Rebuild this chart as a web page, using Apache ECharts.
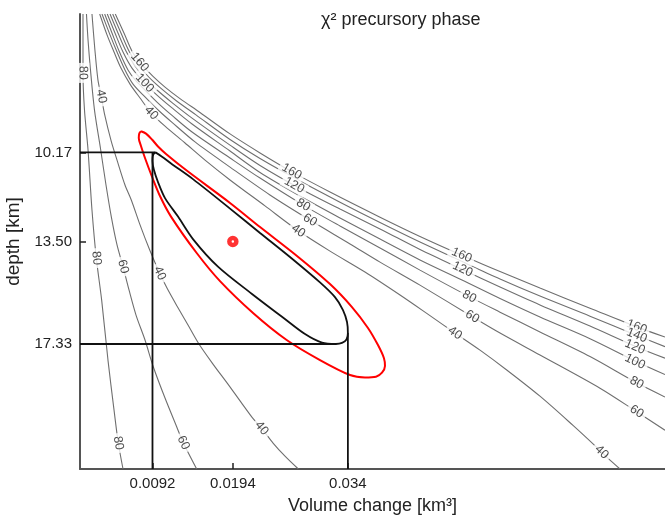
<!DOCTYPE html>
<html><head><meta charset="utf-8">
<script src="https://cdn.jsdelivr.net/npm/echarts@6/dist/echarts.min.js"></script>
<style>html,body{margin:0;padding:0;background:#fff}#c{width:665px;height:519px}</style>
</head><body><div id="c"></div>
<script>
// ---------------- data (volume change km^3, depth km) ----------------
const xTicks = [0.0092, 0.0194, 0.034];
const yTicks = [10.17, 13.50, 17.33];
const xRange = [0, 0.07425];
const yRange = [5, 22];
const bestFit = [[0.0194, 13.50]];
const boundsV = [0.0092, 0.034];
const boundsD = [10.17, 17.33];

// left family of chi^2 contours (small volume side)
const L80 = [[0.00038,5.00],[0.00038,5.97],[0.00038,7.20],[0.00057,8.59],[0.00102,10.08],[0.00152,12.32],[0.00207,14.12],[0.00275,15.69],[0.00355,17.93],[0.00432,19.80],[0.00486,21.03],[0.00546,22.00]];
const L60 = [[0.00082,5.00],[0.00102,5.97],[0.00133,7.09],[0.00184,8.59],[0.00263,10.08],[0.00330,11.39],[0.00397,12.57],[0.00470,13.63],[0.00546,14.44],[0.00622,15.31],[0.00711,16.25],[0.00825,17.18],[0.00930,18.18],[0.01079,19.35],[0.01227,20.42],[0.01311,21.02],[0.01481,22.00]];
const L40 = [[0.00152,5.00],[0.00187,6.27],[0.00228,7.47],[0.00270,8.08],[0.00313,8.76],[0.00397,9.76],[0.00470,10.46],[0.00571,11.39],[0.00651,11.95],[0.00762,12.88],[0.00885,13.82],[0.01012,14.69],[0.01104,15.24],[0.01231,15.91],[0.01371,16.62],[0.01510,17.33],[0.01688,18.08],[0.01878,18.83],[0.02043,19.50],[0.02200,20.13],[0.02306,20.48],[0.02453,21.04],[0.02602,21.52],[0.02771,22.00]];

// upper-right family of chi^2 contours
const U160 = [[0.00448,5.00],[0.00558,5.71],[0.00673,6.46],[0.00800,6.94],[0.00927,7.33],[0.01079,7.73],[0.01269,8.16],[0.01523,8.68],[0.01904,9.48],[0.02285,10.19],[0.02687,10.89],[0.03173,11.65],[0.03808,12.59],[0.04315,13.31],[0.04845,14.01],[0.05331,14.62],[0.05838,15.24],[0.06473,15.99],[0.07066,16.69],[0.07425,17.07]];
const U140 = [[0.00415,5.00],[0.00520,5.71],[0.00628,6.42],[0.00749,6.94],[0.00876,7.37],[0.01028,7.78],[0.01218,8.23],[0.01472,8.77],[0.01904,9.69],[0.02285,10.40],[0.02792,11.24],[0.03300,12.03],[0.03808,12.79],[0.04315,13.52],[0.04848,14.25],[0.05331,14.90],[0.05838,15.54],[0.06473,16.29],[0.07066,17.01],[0.07425,17.43]];
const U120 = [[0.00381,5.00],[0.00482,5.71],[0.00590,6.42],[0.00698,6.94],[0.00825,7.41],[0.00977,7.84],[0.01168,8.31],[0.01422,8.89],[0.01904,9.90],[0.02285,10.66],[0.02792,11.52],[0.03300,12.29],[0.03808,13.03],[0.04315,13.80],[0.04848,14.54],[0.05331,15.20],[0.05838,15.87],[0.06473,16.66],[0.07066,17.44],[0.07425,17.86]];
const U100 = [[0.00346,5.00],[0.00444,5.71],[0.00546,6.42],[0.00660,7.02],[0.00821,7.58],[0.00977,8.03],[0.01168,8.51],[0.01422,9.11],[0.01904,10.12],[0.02285,10.92],[0.02792,11.80],[0.03300,12.62],[0.03808,13.41],[0.04315,14.19],[0.04848,14.94],[0.05331,15.63],[0.05838,16.32],[0.06473,17.13],[0.07066,17.99],[0.07425,18.47]];
const U80 = [[0.00313,5.00],[0.00406,5.71],[0.00501,6.42],[0.00609,7.09],[0.00711,7.50],[0.00825,7.84],[0.00977,8.29],[0.01168,8.79],[0.01422,9.41],[0.01904,10.38],[0.02285,11.13],[0.02834,12.14],[0.03300,12.92],[0.03808,13.74],[0.04315,14.57],[0.04941,15.56],[0.05331,16.14],[0.05838,16.88],[0.06473,17.80],[0.07066,18.78],[0.07425,19.31]];
const U60 = [[0.00279,5.00],[0.00381,5.78],[0.00470,6.42],[0.00571,7.09],[0.00673,7.62],[0.00825,8.10],[0.00977,8.55],[0.01168,9.05],[0.01460,9.78],[0.01904,10.72],[0.02411,11.76],[0.02919,12.70],[0.03427,13.59],[0.03808,14.27],[0.04315,15.13],[0.04979,16.31],[0.05331,16.92],[0.05838,17.74],[0.06600,18.98],[0.07066,19.86],[0.07425,20.55]];
const U40 = [[0.00250,5.00],[0.00343,5.78],[0.00432,6.42],[0.00520,7.02],[0.00635,7.62],[0.00762,8.14],[0.00905,8.70],[0.01079,9.19],[0.01333,9.82],[0.01587,10.46],[0.01904,11.20],[0.02348,12.17],[0.02771,13.10],[0.03173,13.86],[0.03617,14.64],[0.04062,15.50],[0.04442,16.27],[0.04760,16.92],[0.05077,17.56],[0.05416,18.30],[0.05838,19.28],[0.06261,20.38],[0.06515,21.07],[0.06621,21.37],[0.06727,21.67],[0.06854,22.00]];

// confidence contours
const blackContour = [[0.00958,10.17],[0.01041,10.33],[0.01168,10.61],[0.01434,11.17],[0.01904,12.27],[0.02285,13.18],[0.02665,14.08],[0.03046,15.03],[0.03236,15.58],[0.03338,16.06],[0.03389,16.51],[0.03400,16.92],[0.03382,17.16],[0.03325,17.29],[0.03249,17.33],[0.03071,17.28],[0.02856,16.96],[0.02576,16.34],[0.02183,15.46],[0.01751,14.44],[0.01434,13.41],[0.01244,12.57],[0.01079,11.88],[0.00990,11.28],[0.00939,10.83],[0.00920,10.49],[0.00924,10.31],[0.00939,10.21],[0.00958,10.17]];
const redContour = [[0.00774,9.38],[0.00838,9.47],[0.00914,9.69],[0.00990,9.95],[0.01092,10.23],[0.01354,10.85],[0.01904,12.06],[0.02285,12.96],[0.02754,14.04],[0.03173,15.09],[0.03452,15.95],[0.03655,16.73],[0.03782,17.37],[0.03858,17.86],[0.03871,18.15],[0.03833,18.40],[0.03757,18.55],[0.03617,18.58],[0.03427,18.49],[0.03046,17.93],[0.02623,17.18],[0.02200,16.18],[0.01777,14.98],[0.01481,13.93],[0.01155,12.57],[0.01015,11.80],[0.00914,11.08],[0.00825,10.38],[0.00774,9.93],[0.00746,9.63],[0.00753,9.46],[0.00774,9.38]];

// contour labels: volume, depth, text, contour
const contourLabels = [
  [0.00038,7.20,'80','L80'],[0.00270,8.08,'40','L40'],
  [0.00207,14.12,'80','L80'],[0.00546,14.44,'60','L60'],[0.01012,14.69,'40','L40'],
  [0.00486,21.03,'80','L80'],[0.01311,21.02,'60','L60'],[0.02306,20.48,'40','L40'],
  [0.00758,6.80,'160','U160'],[0.00821,7.58,'100','U100'],[0.00905,8.70,'40','U40'],
  [0.02687,10.89,'160','U160'],[0.02720,11.40,'120','U120'],[0.02834,12.14,'80','U80'],[0.02919,12.70,'60','U60'],[0.02771,13.10,'40','U40'],
  [0.04845,14.01,'160','U160'],[0.04857,14.54,'120','U120'],[0.04941,15.56,'80','U80'],[0.04979,16.31,'60','U60'],[0.04760,16.92,'40','U40'],
  [0.07066,16.69,'160','U160'],[0.07066,17.01,'140','U140'],[0.07044,17.44,'120','U120'],[0.07044,17.99,'100','U100'],[0.07066,18.78,'80','U80'],[0.07066,19.86,'60','U60'],[0.06621,21.37,'40','U40']
];

// ---------------- chart ----------------
const FONT = 'Liberation Sans, Arial, sans-serif';
const lines = {L80, L60, L40, U160, U140, U120, U100, U80, U60, U40};
const chart = echarts.init(document.getElementById('c'), null, {renderer: 'canvas'});

const topPt = blackContour.reduce((a, p) => p[1] < a[1] ? p : a);
const botPt = blackContour.reduce((a, p) => p[1] > a[1] ? p : a);
const rightPt = blackContour.reduce((a, p) => p[0] > a[0] ? p : a);

const grayLine = (name, data) => ({
  type: 'line', name, data, z: 2, smooth: 0.3, symbol: 'none', silent: true,
  lineStyle: {color: '#6f6f6f', width: 1.1}
});
const blackStyle = {color: '#111', width: 1.8};
const blackLine = (data, smooth) => ({
  type: 'line', data, z: 4, smooth: smooth || 0, symbol: 'none', silent: true, lineStyle: blackStyle
});

function labelData(rot) {
  return contourLabels.map((l, i) => ({
    value: [l[0], l[1]],
    label: {formatter: l[2], rotate: rot ? rot[i] : 0}
  }));
}

const series = [];
Object.keys(lines).forEach(k => series.push(grayLine(k, lines[k])));
series.push({
  type: 'scatter', id: 'labels', z: 3, silent: true, symbolSize: 1,
  itemStyle: {color: 'rgba(0,0,0,0)'},
  label: {show: true, position: 'inside', color: '#1a1a1a', fontSize: 12.5, fontFamily: FONT,
          backgroundColor: '#fff', padding: [0, 3]},
  data: labelData(null)
});
series.push({type: 'line', data: redContour, z: 4, smooth: 0.3, symbol: 'none', silent: true,
             lineStyle: {color: '#ff0000', width: 2}});
series.push(blackLine(blackContour, 0.3));
series.push(blackLine([[xRange[0], boundsD[0]], [topPt[0], boundsD[0]]]));
series.push(blackLine([[boundsV[0], yRange[1]], [boundsV[0], boundsD[0]]]));
series.push(blackLine([[xRange[0], boundsD[1]], [botPt[0], boundsD[1]]]));
series.push(blackLine([[boundsV[1], yRange[1]], [boundsV[1], rightPt[1]]]));
series.push({type: 'scatter', data: bestFit, z: 5, silent: true, symbol: 'circle', symbolSize: 7,
             itemStyle: {color: '#fff', borderColor: '#ff0000', borderWidth: 4.5}});

chart.setOption({
  animation: false,
  backgroundColor: '#fff',
  textStyle: {fontFamily: FONT},
  title: {text: 'χ² precursory phase', left: 316, top: 6,
          textStyle: {fontSize: 18, fontWeight: 'normal', color: '#222', fontFamily: FONT}},
  grid: {left: 80, right: 0, top: 14, bottom: 50, containLabel: false, outerBoundsMode: 'none'},
  xAxis: {
    type: 'value', min: xRange[0], max: xRange[1],
    name: 'Volume change [km³]', nameLocation: 'middle', nameGap: 28,
    nameTextStyle: {fontSize: 18, color: '#222', fontFamily: FONT},
    axisLine: {lineStyle: {color: '#555', width: 2}},
    axisTick: {inside: true, length: 6, customValues: xTicks, lineStyle: {color: '#222', width: 1.5}},
    axisLabel: {customValues: xTicks, formatter: v => String(v), fontSize: 15, color: '#222', margin: 7, fontFamily: FONT},
    splitLine: {show: false}
  },
  yAxis: {
    type: 'value', inverse: true, min: yRange[0], max: yRange[1],
    name: 'depth [km]', nameLocation: 'middle', nameGap: 46,
    nameTextStyle: {fontSize: 19, color: '#222', fontFamily: FONT},
    axisLine: {lineStyle: {color: '#555', width: 2}},
    axisTick: {inside: true, length: 6, customValues: yTicks, lineStyle: {color: '#222', width: 1.5}},
    axisLabel: {customValues: yTicks, formatter: v => v.toFixed(2), fontSize: 15, color: '#222', margin: 8, fontFamily: FONT},
    splitLine: {show: false}
  },
  series
});

// orient each contour label along its contour line
const rot = contourLabels.map(l => {
  const pts = lines[l[3]].map(p => chart.convertToPixel({gridIndex: 0}, p));
  const q = chart.convertToPixel({gridIndex: 0}, [l[0], l[1]]);
  let best = 0, bd = Infinity;
  pts.forEach((p, i) => { const d = (p[0]-q[0])**2 + (p[1]-q[1])**2; if (d < bd) { bd = d; best = i; } });
  const a = pts[Math.max(0, best-1)], b = pts[Math.min(pts.length-1, best+1)];
  let ang = Math.atan2(b[1]-a[1], b[0]-a[0]) * 180 / Math.PI;
  if (ang > 90) ang -= 180;
  if (ang < -90) ang += 180;
  return -ang;
});
chart.setOption({series: [{id: 'labels', data: labelData(rot)}]});
</script>
</body></html>
